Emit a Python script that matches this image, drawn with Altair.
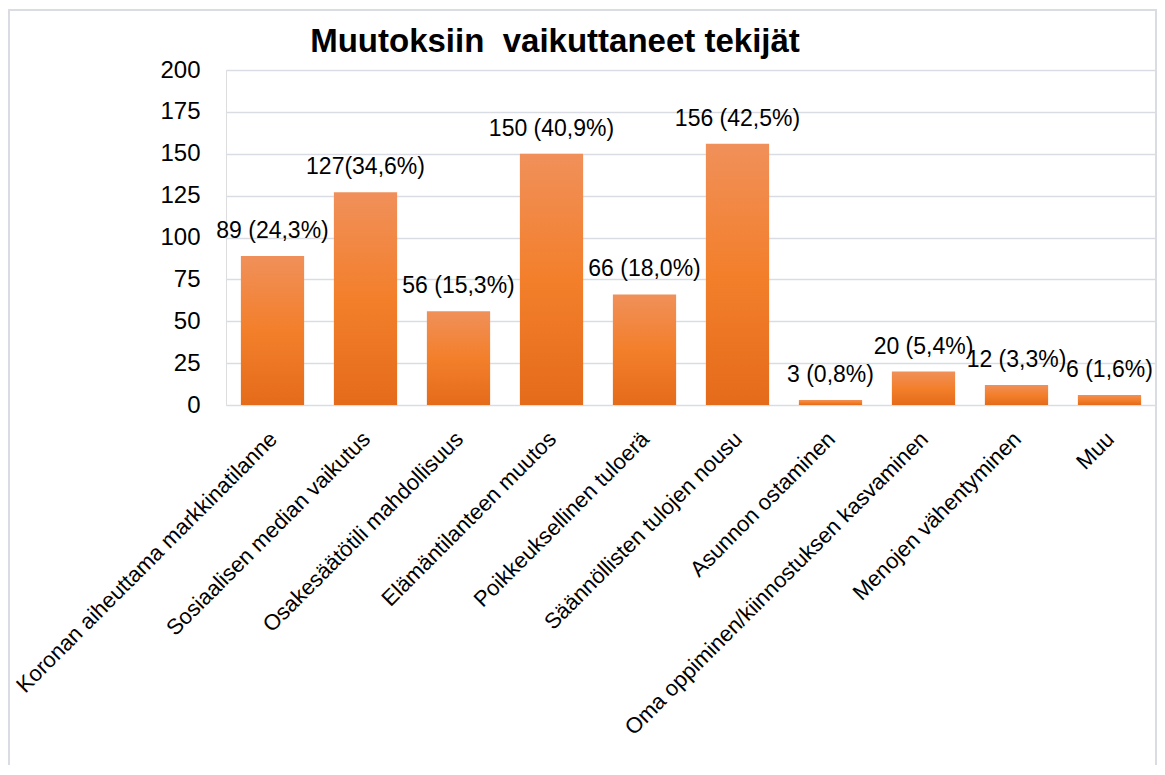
import altair as alt
import pandas as pd

title_text = "Muutoksiin\u00a0 vaikuttaneet tekijät"
categories = [
    "Koronan aiheuttama markkinatilanne",
    "Sosiaalisen median vaikutus",
    "Osakesäätötili mahdollisuus",
    "Elämäntilanteen muutos",
    "Poikkeuksellinen tuloerä",
    "Säännöllisten tulojen nousu",
    "Asunnon ostaminen",
    "Oma oppiminen/kiinnostuksen kasvaminen",
    "Menojen vähentyminen",
    "Muu",
]
counts = [89, 127, 56, 150, 66, 156, 3, 20, 12, 6]
value_labels = [
    "89 (24,3%)", "127(34,6%)", "56 (15,3%)", "150 (40,9%)", "66 (18,0%)",
    "156 (42,5%)", "3 (0,8%)", "20 (5,4%)", "12 (3,3%)", "6 (1,6%)",
]
y_ticks = [0, 25, 50, 75, 100, 125, 150, 175, 200]

df = pd.DataFrame({"cat": categories, "n": counts, "lab": value_labels})

FONT = "Liberation Sans"
GRID = "#D9DDE3"

x_enc = alt.X(
    "cat:N",
    sort=categories,
    title=None,
    scale=alt.Scale(paddingInner=0.32, paddingOuter=0.16),
    axis=alt.Axis(
        labelAngle=-45,
        labelAlign="right",
        labelBaseline="top",
        labelPadding=23,
        labelOffset=-6,
        labelFontSize=22,
        labelFont=FONT,
        labelColor="#000000",
        labelLimit=0,
        ticks=False,
        tickSize=0,
        domain=False,
        grid=False,
    ),
)
y_enc = alt.Y(
    "n:Q",
    title=None,
    scale=alt.Scale(domain=[0, 200], nice=False),
    axis=alt.Axis(
        values=y_ticks,
        labelFontSize=24,
        labelFont=FONT,
        labelColor="#000000",
        labelPadding=26,
        ticks=False,
        tickSize=0,
        domain=False,
        grid=True,
        gridColor=GRID,
        gridWidth=1.6,
    ),
)

gradient = alt.Gradient(
    gradient="linear",
    stops=[
        alt.GradientStop(color="#F0905A", offset=0),
        alt.GradientStop(color="#F37F2B", offset=0.5),
        alt.GradientStop(color="#E46B1A", offset=1),
    ],
    x1=0, x2=0, y1=0, y2=1,
)

bars = alt.Chart(df).mark_bar(color=gradient).encode(x=x_enc, y=y_enc)

texts = alt.Chart(df).mark_text(
    font=FONT, fontSize=23, color="#000000", baseline="alphabetic", dy=-18
).encode(x=alt.X("cat:N", sort=categories), y="n:Q", text="lab:N")

frame = alt.Chart(alt.Data(values=[{}])).mark_rect(
    fill=None, fillOpacity=0, stroke=GRID, strokeWidth=2
).encode(
    x=alt.value(-217), x2=alt.value(930), y=alt.value(-60), y2=alt.value(712)
)

chart = alt.layer(frame, bars, texts).properties(
    width=930,
    height=335,
    padding={"left": 218, "top": 62, "right": 1, "bottom": 360},
    autosize=alt.AutoSizeParams(type="none"),
    title=alt.TitleParams(
        text=title_text,
        font=FONT,
        fontSize=33,
        fontWeight="bold",
        color="#000000",
        anchor="middle",
        frame="group",
        dx=-136,
        dy=94,
        baseline="alphabetic",
        offset=18,
    ),
).configure_view(stroke=None).configure(background="white")

chart.save("out.html", embed_options={"renderer": "svg", "actions": False})
